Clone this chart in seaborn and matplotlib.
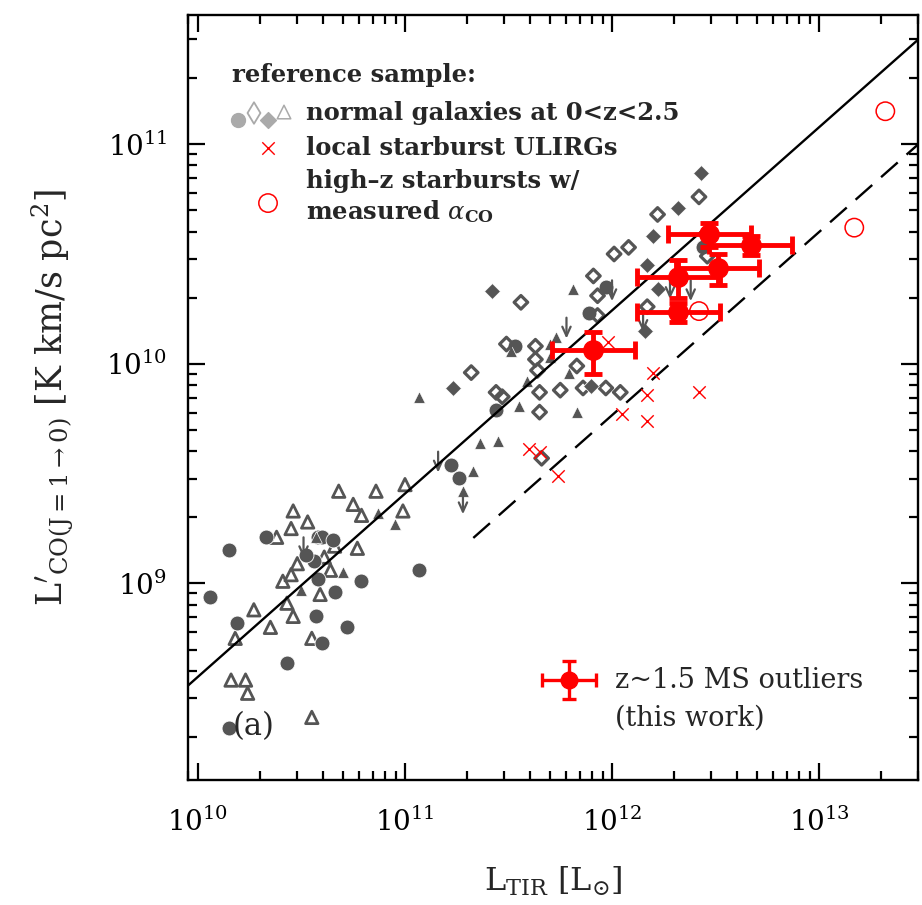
import numpy as np
import pandas as pd
import matplotlib
matplotlib.use("Agg")
import matplotlib.pyplot as plt
import seaborn as sns
from matplotlib.ticker import LogLocator, LogFormatterMathtext, NullFormatter

# ---------------- data (log10 L_TIR [Lsun], log10 L'_CO [K km/s pc^2]) ----------------
# reference sample: normal galaxies at 0<z<2.5, split by symbol
circ_lir = [11.53, 11.44, 11.22, 11.26, 10.33, 10.58, 10.60, 10.65, 10.15, 10.56, 11.07, 10.58, 10.79,
            10.06, 10.66, 10.19, 10.57, 10.72, 10.60, 10.43, 10.15, 11.97, 11.89, 12.44, 10.52]
circ_lco = [10.08, 9.79, 9.54, 9.48, 9.21, 9.21, 9.21, 9.20, 9.15, 9.10, 9.06, 9.02, 9.01,
            8.94, 8.96, 8.82, 8.85, 8.80, 8.73, 8.64, 8.34, 10.35, 10.23, 10.53, 9.13]

odiam_lir = [11.56, 11.49, 11.63, 11.63, 11.64, 11.32, 11.44, 11.47, 11.65, 11.65, 11.66, 12.01, 11.91,
             11.93, 12.17, 11.93, 11.83, 11.75, 11.86, 11.97, 12.04, 12.42, 12.22, 12.08, 12.46]
odiam_lco = [10.28, 10.09, 10.08, 10.02, 9.97, 9.96, 9.87, 9.85, 9.87, 9.78, 9.57, 10.50, 10.40,
             10.31, 10.26, 10.22, 9.99, 9.88, 9.89, 9.89, 9.87, 10.76, 10.68, 10.53, 10.49]

fdiam_lir = [11.42, 11.23, 12.17, 12.22, 12.16, 11.90, 12.43, 12.32, 12.20]
fdiam_lco = [10.33, 9.89, 10.45, 10.34, 10.15, 9.90, 10.87, 10.71, 10.58]

ftri_lir = [11.51, 11.70, 11.07, 11.55, 11.59, 11.36, 11.45, 11.33, 11.28, 10.87, 10.95, 10.57, 10.70,
            10.50, 11.81, 11.73, 11.70, 11.79, 11.83]
ftri_lco = [10.06, 10.09, 9.85, 9.81, 9.92, 9.64, 9.65, 9.51, 9.42, 9.32, 9.27, 9.21, 9.05,
            8.97, 10.34, 10.12, 10.03, 9.96, 9.78]

otri_lir = [10.68, 10.86, 11.00, 10.75, 10.79, 10.99, 10.46, 10.53, 10.45, 10.38, 10.77, 10.66, 10.61,
            10.48, 10.64, 10.45, 10.41, 10.59, 10.27, 10.43, 10.46, 10.35, 10.55, 10.18, 10.16, 10.23,
            10.24, 10.55]
otri_lco = [9.42, 9.42, 9.45, 9.36, 9.31, 9.33, 9.33, 9.28, 9.25, 9.21, 9.16, 9.17, 9.12,
            9.09, 9.06, 9.04, 9.01, 8.95, 8.88, 8.91, 8.85, 8.80, 8.75, 8.75, 8.56, 8.56,
            8.50, 8.39]

# CO upper limits among the normal galaxies
ulim_lir = [11.16, 11.28, 10.51, 12.00, 12.15, 11.78, 12.28, 12.38]
ulim_lco = [9.60, 9.41, 9.21, 10.38, 10.24, 10.21, 10.39, 10.38]

# local starburst ULIRGs
ulirg_lir = [11.98, 12.20, 12.42, 12.17, 12.05, 12.17, 11.60, 11.65, 11.74]
ulirg_lco = [10.10, 9.96, 9.87, 9.86, 9.77, 9.74, 9.61, 9.60, 9.49]

# high-z starbursts with measured alpha_CO
hzsb_lir = [13.32, 13.17, 12.42]
hzsb_lco = [11.15, 10.62, 10.24]

# z~1.5 main-sequence outliers (this work)
ms_lir = [11.91, 12.32, 12.51, 12.32, 12.47, 12.67]          # log10 L_TIR
ms_lco = [1.15, 2.48, 2.72, 1.72, 3.89, 3.47]                # L'_CO / 1e10
ms_lco_err = [0.25, 0.48, 0.43, 0.17, 0.50, 0.35]            # 1 sigma / 1e10
ms_lir_err_dex = 0.2

# L'_CO - L_TIR sequences: main sequence (solid) and starburst (dashed)
ms_slope, ms_icpt = 0.834, 0.235
sb_offset = -0.477
sb_start = 11.33

# ---------------- style ----------------
sns.set_theme(style="ticks")
plt.rcParams["font.family"] = ["DejaVu Serif", "DejaVu Sans"]
plt.rcParams["mathtext.fontset"] = "dejavuserif"
plt.rcParams["lines.scale_dashes"] = False

GRAY = "#555555"
LGRAY = "#aaaaaa"
RED = "#ff0000"

X_LO, X_HI = 9.952, 13.478
Y_LO, Y_HI = 8.105, 11.588

fig = plt.figure(figsize=(9.22, 9.05), dpi=100)
ax = fig.add_axes([0.2039, 0.1381, 0.7918, 0.8453])
ax.set_xscale("log")
ax.set_yscale("log")
ax.set_xlim(10**X_LO, 10**X_HI)
ax.set_ylim(10**Y_LO, 10**Y_HI)


def lin(a):
    return 10 ** np.asarray(a, dtype=float)


def df_of(lir, lco):
    return pd.DataFrame({"LTIR": lin(lir), "LCO": lin(lco)})


# normal galaxies
sns.scatterplot(data=df_of(otri_lir, otri_lco), x="LTIR", y="LCO", ax=ax, marker="^",
                s=80, fc="none", ec=GRAY, linewidth=2.0, zorder=2)
sns.scatterplot(data=df_of(circ_lir, circ_lco), x="LTIR", y="LCO", ax=ax, marker="o",
                s=115, color=GRAY, ec="white", linewidth=0.6, zorder=2)
sns.scatterplot(data=df_of(ftri_lir, ftri_lco), x="LTIR", y="LCO", ax=ax, marker="^",
                s=70, color=GRAY, ec="white", linewidth=0.5, zorder=2)
sns.scatterplot(data=df_of(odiam_lir, odiam_lco), x="LTIR", y="LCO", ax=ax, marker="D",
                s=48, fc="none", ec=GRAY, linewidth=2.3, zorder=2)
sns.scatterplot(data=df_of(fdiam_lir, fdiam_lco), x="LTIR", y="LCO", ax=ax, marker="D",
                s=65, color=GRAY, ec="white", linewidth=0.5, zorder=2)

for lx, ly in zip(ulim_lir, ulim_lco):
    ax.annotate("", xy=(10**lx, 10**(ly - 0.095)), xytext=(10**lx, 10**ly),
                arrowprops=dict(arrowstyle="->,head_length=0.55,head_width=0.25",
                                color=GRAY, lw=1.6, shrinkA=0, shrinkB=0), zorder=2)

# sequences
lx_ms = np.array([X_LO, X_HI])
ax.plot(lin(lx_ms), lin(ms_slope * lx_ms + ms_icpt), color="black", lw=1.7, zorder=3)
lx_sb = np.array([sb_start, X_HI])
ax.plot(lin(lx_sb), lin(ms_slope * lx_sb + ms_icpt + sb_offset), color="black", lw=1.7,
        dashes=(16, 8.5), zorder=3)

# starbursts
ax.scatter(lin(ulirg_lir), lin(ulirg_lco), marker="x", s=80, color=RED, linewidth=1.0, zorder=4)
ax.scatter(lin(hzsb_lir), lin(hzsb_lco), marker="o", s=175, facecolors="none",
           edgecolors=RED, linewidth=1.1, zorder=4)

# this work
ms_x = lin(ms_lir)
ms_y = np.asarray(ms_lco) * 1e10
ms_yerr = np.asarray(ms_lco_err) * 1e10
xerr = np.vstack([ms_x - lin(np.asarray(ms_lir) - ms_lir_err_dex),
                  lin(np.asarray(ms_lir) + ms_lir_err_dex) - ms_x])
ax.errorbar(ms_x, ms_y, xerr=xerr, yerr=ms_yerr, fmt="o", color=RED, ms=14,
            elinewidth=3.5, capsize=6.5, capthick=3.5, zorder=5)

# ---------------- legend (drawn in axes coordinates) ----------------
T = ax.transAxes
LFS = 17.5
ax.text(0.060, 0.921, "reference sample:", transform=T, fontsize=LFS, fontweight="bold",
        va="center", ha="left")
ax.scatter([0.0685], [0.8627], transform=T, marker="o", s=100, color=LGRAY, zorder=6)
ax.scatter([0.0904], [0.8719], transform=T, marker="d", s=120, facecolors="none",
           edgecolors=LGRAY, linewidth=1.3, zorder=6)
ax.scatter([0.1096], [0.8627], transform=T, marker="D", s=65, color=LGRAY, zorder=6)
ax.scatter([0.1315], [0.8732], transform=T, marker="^", s=95, facecolors="none",
           edgecolors=LGRAY, linewidth=1.1, zorder=6)
ax.text(0.1616, 0.8719, "normal galaxies at 0<z<2.5", transform=T, fontsize=LFS,
        fontweight="bold", va="center", ha="left")
ax.scatter([0.1096], [0.8261], transform=T, marker="x", s=80, color=RED, linewidth=1.0, zorder=6)
ax.text(0.1616, 0.8261, "local starburst ULIRGs", transform=T, fontsize=LFS,
        fontweight="bold", va="center", ha="left")
ax.scatter([0.1096], [0.7542], transform=T, marker="o", s=175, facecolors="none",
           edgecolors=RED, linewidth=1.1, zorder=6)
ax.text(0.1616, 0.7830, "high\u2013z starbursts w/", transform=T, fontsize=LFS,
        fontweight="bold", va="center", ha="left")
ax.text(0.1616, 0.7430, r"measured $\alpha_{\mathbf{CO}}$", transform=T, fontsize=LFS,
        fontweight="bold", va="center", ha="left")

ax.errorbar([0.5219], [0.1307], xerr=[0.037], yerr=[0.0248], transform=T, fmt="o",
            color=RED, ms=12, elinewidth=2.4, capsize=5, capthick=2.4, zorder=6, clip_on=False)
ax.text(0.5849, 0.1307, "z~1.5 MS outliers", transform=T, fontsize=19.5, va="center", ha="left")
ax.text(0.5849, 0.0810, "(this work)", transform=T, fontsize=19.5, va="center", ha="left")

ax.text(0.0616, 0.0693, "(a)", transform=T, fontsize=22, va="center", ha="left")

# ---------------- axes ----------------
ax.xaxis.set_major_locator(LogLocator(base=10, numticks=20))
ax.yaxis.set_major_locator(LogLocator(base=10, numticks=20))
ax.xaxis.set_minor_locator(LogLocator(base=10, subs=np.arange(2, 10), numticks=50))
ax.yaxis.set_minor_locator(LogLocator(base=10, subs=np.arange(2, 10), numticks=50))
ax.xaxis.set_major_formatter(LogFormatterMathtext())
ax.yaxis.set_major_formatter(LogFormatterMathtext())
ax.xaxis.set_minor_formatter(NullFormatter())
ax.yaxis.set_minor_formatter(NullFormatter())

ax.tick_params(which="both", direction="in", top=True, right=True, width=1.6, colors="black")
ax.tick_params(which="major", length=12.5, labelsize=20)
ax.tick_params(which="minor", length=6.5)
ax.tick_params(axis="x", which="major", pad=20)
ax.tick_params(axis="y", which="major", pad=15)
for sp in ax.spines.values():
    sp.set_linewidth(1.7)
    sp.set_color("black")

ax.set_xlabel(r"$\mathrm{L_{TIR}}$ [$\mathrm{L}_{\odot}$]", fontsize=23, labelpad=20)
ax.set_ylabel(r"$\mathrm{L'_{CO(J=1\rightarrow0)}}$ [K km/s pc$^{\mathrm{2}}$]", fontsize=25,
              labelpad=22)

fig.savefig("out.png", dpi=100, facecolor="white")
